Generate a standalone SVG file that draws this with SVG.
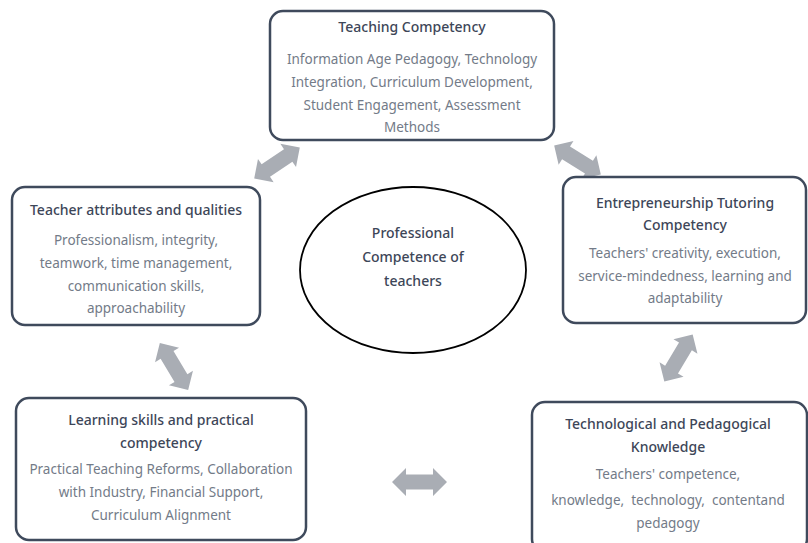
<svg xmlns="http://www.w3.org/2000/svg" xmlns:xlink="http://www.w3.org/1999/xlink" width="808" height="543" viewBox="0 0 808 543">
<style>
.box{fill:#fff;stroke:#3f4a5c;stroke-width:2.5}
.t{font-family:"Noto Sans","Open Sans",sans-serif;font-size:14px;font-weight:500;fill:#3d4658;text-anchor:middle}
.b{font-family:"Noto Sans","Open Sans",sans-serif;font-size:13.5px;fill:#737b88;text-anchor:middle}
.arr{fill:#a9adb4}
</style>
<defs>
<polygon id="dbl" points="-27.5,0 -13.5,-14 -13.5,-7.5 13.5,-7.5 13.5,-14 27.5,0 13.5,14 13.5,7.5 -13.5,7.5 -13.5,14"/>
</defs>
<rect width="808" height="543" fill="#fff"/>
<g id="connectors" class="arr">
<use xlink:href="#dbl" transform="translate(277,163) rotate(-34)"/>
<use xlink:href="#dbl" transform="translate(577.5,160) rotate(32)"/>
<use xlink:href="#dbl" transform="translate(174,366.5) rotate(59)"/>
<use xlink:href="#dbl" transform="translate(678.5,358) rotate(121)"/>
<use xlink:href="#dbl" transform="translate(419.5,482)"/>
</g>
<g id="center">
<ellipse cx="413" cy="270" rx="113" ry="83" fill="#fff" stroke="#000" stroke-width="1.8"/>
<text class="t" x="413" y="238">Professional</text>
<text class="t" x="413" y="262">Competence of</text>
<text class="t" x="413" y="286">teachers</text>
</g>
<g id="teaching">
<rect class="box" x="270" y="11" width="284" height="129" rx="13"/>
<text class="t" x="412" y="32">Teaching Competency</text>
<text class="b" x="412" y="64">Information Age Pedagogy, Technology</text>
<text class="b" x="412" y="87">Integration, Curriculum Development,</text>
<text class="b" x="412" y="110">Student Engagement, Assessment</text>
<text class="b" x="412" y="132">Methods</text>
</g>
<g id="attributes">
<rect class="box" x="12" y="187" width="248" height="138" rx="13"/>
<text class="t" x="136" y="215">Teacher attributes and qualities</text>
<text class="b" x="136" y="245">Professionalism, integrity,</text>
<text class="b" x="136" y="268">teamwork, time management,</text>
<text class="b" x="136" y="291">communication skills,</text>
<text class="b" x="136" y="313">approachability</text>
</g>
<g id="entrepreneurship">
<rect class="box" x="563" y="177" width="243" height="146" rx="13"/>
<text class="t" x="685" y="208">Entrepreneurship Tutoring</text>
<text class="t" x="685" y="230">Competency</text>
<text class="b" x="685" y="258">Teachers' creativity, execution,</text>
<text class="b" x="685" y="281">service-mindedness, learning and</text>
<text class="b" x="685" y="303">adaptability</text>
</g>
<g id="learning">
<rect class="box" x="16" y="398" width="290" height="142" rx="13"/>
<text class="t" x="161" y="425">Learning skills and practical</text>
<text class="t" x="161" y="448">competency</text>
<text class="b" x="161" y="474">Practical Teaching Reforms, Collaboration</text>
<text class="b" x="161" y="497">with Industry, Financial Support,</text>
<text class="b" x="161" y="520">Curriculum Alignment</text>
</g>
<g id="tpk">
<rect class="box" x="532" y="402" width="275" height="150" rx="13"/>
<text class="t" x="668" y="429">Technological and Pedagogical</text>
<text class="t" x="668" y="452">Knowledge</text>
<text class="b" x="668" y="479">Teachers' competence,</text>
<text class="b" x="668" y="505">knowledge,&#160; technology,&#160; contentand</text>
<text class="b" x="668" y="528">pedagogy</text>
</g>
</svg>
